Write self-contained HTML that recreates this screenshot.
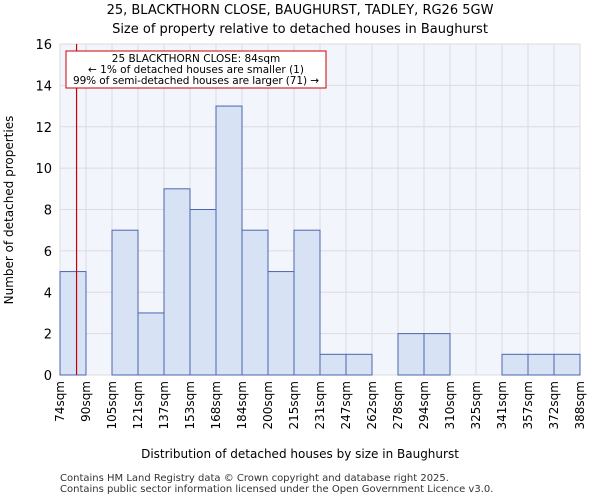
<!DOCTYPE html>
<html><head><meta charset="utf-8"><style>
body{margin:0;background:#fff;font-family:"DejaVu Sans","Liberation Sans",sans-serif;}
</style></head><body>
<svg id="chart" width="600" height="500" xmlns="http://www.w3.org/2000/svg" font-family="DejaVu Sans, Liberation Sans, sans-serif">
<text x="300" y="14" text-anchor="middle" font-size="13">25, BLACKTHORN CLOSE, BAUGHURST, TADLEY, RG26 5GW</text>
<text x="300" y="33" text-anchor="middle" font-size="13">Size of property relative to detached houses in Baughurst</text>
<rect x="60" y="44" width="520" height="331" fill="#f2f5fc"/>
<g id="grid"></g>
<g id="bars"></g>
<g id="axes"></g>
<text transform="translate(13,210) rotate(-90)" text-anchor="middle" font-size="12">Number of detached properties</text>
<text x="300" y="458" text-anchor="middle" font-size="12">Distribution of detached houses by size in Baughurst</text>
<line id="marker" y1="44" y2="375" stroke="#cc0000" stroke-width="1.2"/>
<g>
<rect x="66" y="51" width="260" height="37" fill="#fff" stroke="#cc0000" stroke-width="1"/>
<text x="196" y="62" text-anchor="middle" font-size="10.5">25 BLACKTHORN CLOSE: 84sqm</text>
<text x="196" y="73" text-anchor="middle" font-size="10.5">← 1% of detached houses are smaller (1)</text>
<text x="196" y="84" text-anchor="middle" font-size="10.5" textLength="246">99% of semi-detached houses are larger (71) →</text>
</g>
<text x="60" y="481" font-size="10" fill="#333">Contains HM Land Registry data © Crown copyright and database right 2025.</text>
<text x="60" y="492" font-size="10" fill="#333">Contains public sector information licensed under the Open Government Licence v3.0.</text>
</svg>
<script>
const binLabels=["74sqm","90sqm","105sqm","121sqm","137sqm","153sqm","168sqm","184sqm","200sqm","215sqm","231sqm","247sqm","262sqm","278sqm","294sqm","310sqm","325sqm","341sqm","357sqm","372sqm","388sqm"];
const counts=[5,0,7,3,9,8,13,7,5,7,1,1,0,2,2,0,0,1,1,1];
const yTicks=[0,2,4,6,8,10,12,14,16];
const binStart=74, binWidth=15.7, markerValue=84;
const NS="http://www.w3.org/2000/svg";
const X0=60,X1=580,Y0=375,Y1=44,YMAX=16;
const xb=i=>X0+(X1-X0)*i/counts.length;
const xv=v=>X0+(v-binStart)/(binWidth*counts.length)*(X1-X0);
const y=v=>Y0-(Y0-Y1)*v/YMAX;
function mk(tag,attrs,parent){const e=document.createElementNS(NS,tag);for(const k in attrs)e.setAttribute(k,attrs[k]);document.getElementById(parent).appendChild(e);return e;}
yTicks.forEach(t=>{
  const l=mk('line',{x1:X0,x2:X1,y1:y(t),y2:y(t),stroke:'#dcdcdc','stroke-width':1},'grid');
  
  
  const tx=mk('text',{x:X0-8,y:y(t)+5,'text-anchor':'end','font-size':13},'axes');
  tx.textContent=t;
  
  
});
binLabels.forEach((lab,i)=>{
  const x=xb(i);
  const l=mk('line',{x1:x,x2:x,y1:Y1,y2:Y0,stroke:'#dcdcdc','stroke-width':1},'grid');
  
  
  const tx=mk('text',{transform:`translate(${x+4},381) rotate(-90)`,'text-anchor':'end','font-size':12},'axes');
  tx.textContent=lab;
  
  
});
counts.forEach((c,i)=>{
  if(c<=0)return;
  const r=mk('rect',{x:xb(i),y:y(c),width:xb(i+1)-xb(i),height:Y0-y(c),fill:'#d8e2f5',stroke:'#4a67ad','stroke-width':1},'bars');
  
  
});
const m=document.getElementById('marker');
m.setAttribute('x1',xv(markerValue));m.setAttribute('x2',xv(markerValue));
</script>
</body></html>
